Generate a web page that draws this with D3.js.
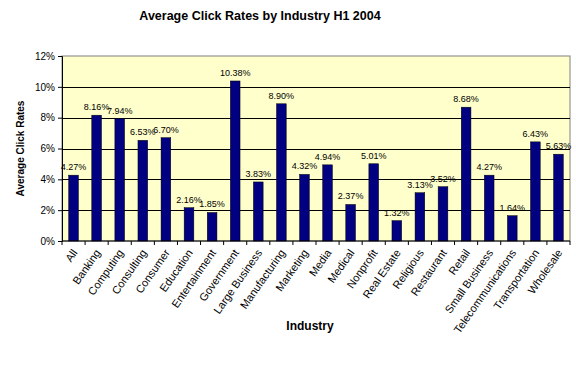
<!DOCTYPE html>
<html>
<head>
<meta charset="utf-8">
<script src="https://cdn.jsdelivr.net/npm/d3@7"></script>
<style>
  body { margin: 0; background: #fff; }
  svg text { font-family: "Liberation Sans", Arial, sans-serif; }
</style>
</head>
<body>
<div id="chart"></div>
<script>
// chart data
var industries = ["All", "Banking", "Computing", "Consulting", "Consumer", "Education",
  "Entertainment", "Government", "Large Business", "Manufacturing", "Marketing", "Media",
  "Medical", "Nonprofit", "Real Estate", "Religious", "Restaurant", "Retail",
  "Small Business", "Telecommunications", "Transportation", "Wholesale"];
var clickRates = [4.27, 8.16, 7.94, 6.53, 6.70, 2.16, 1.85, 10.38, 3.83, 8.90, 4.32, 4.94,
  2.37, 5.01, 1.32, 3.13, 3.52, 8.68, 4.27, 1.64, 6.43, 5.63];
var yTicks = [0, 2, 4, 6, 8, 10, 12];

var data = industries.map(function(d, i) { return {name: d, value: clickRates[i]}; });

// set dimensions and margins
var margin = {top: 56, right: 6, bottom: 143, left: 62},
  width = 576 - margin.left - margin.right,
  height = 384 - margin.top - margin.bottom;

var svg = d3.select("#chart")
  .append("svg")
    .attr("width", 576)
    .attr("height", 384)
  .append("g")
    .attr("transform", "translate(" + margin.left + "," + margin.top + ")");

// title
svg.append("text")
  .attr("x", 260 - margin.left)
  .attr("y", 17 - margin.top)
  .attr("text-anchor", "middle")
  .attr("dominant-baseline", "middle")
  .style("font-size", "12.5px")
  .style("font-weight", "bold")
  .text("Average Click Rates by Industry H1 2004");

var x = d3.scaleBand()
  .domain(industries)
  .range([0, width])
  .paddingInner(0.58)
  .paddingOuter(0.29);

var y = d3.scaleLinear()
  .domain([0, 12])
  .range([height, 0]);

// plot background
svg.append("rect")
  .attr("width", width)
  .attr("height", height)
  .attr("fill", "#ffffcc")
  .attr("stroke", "#808080")
  .attr("stroke-width", 1);

// gridlines
svg.selectAll(".grid")
  .data(yTicks.filter(function(d) { return d > 0 && d < 12; }))
  .enter().append("line")
    .attr("x1", 0)
    .attr("x2", width)
    .attr("y1", function(d) { return Math.round(y(d)) + 0.5; })
    .attr("y2", function(d) { return Math.round(y(d)) + 0.5; })
    .attr("stroke", "#000")
    .attr("stroke-width", 1);

// bars
svg.selectAll(".bar")
  .data(data)
  .enter().append("rect")
    .attr("x", function(d) { return x(d.name); })
    .attr("y", function(d) { return y(d.value); })
    .attr("width", x.bandwidth())
    .attr("height", function(d) { return height - y(d.value); })
    .attr("fill", "#000080")
    .attr("stroke", "#000")
    .attr("stroke-width", 0.5);

// data labels
svg.selectAll(".lbl")
  .data(data)
  .enter().append("text")
    .attr("x", function(d) { return x(d.name) + x.bandwidth() / 2; })
    .attr("y", function(d) { return y(d.value) - 5; })
    .attr("text-anchor", "middle")
    .style("font-size", "9px")
    .text(function(d) { return d.value.toFixed(2) + "%"; });

// Y axis
var yAxis = svg.append("g")
  .call(d3.axisLeft(y).tickValues(yTicks).tickSize(4).tickFormat(function(d) { return d + "%"; }));
yAxis.select(".domain").attr("stroke", "#000");
yAxis.selectAll("text").style("font-size", "10px").attr("x", -7);

// X axis
var xAxis = svg.append("g")
  .attr("transform", "translate(0," + height + ")");
xAxis.append("line")
  .attr("x1", 0).attr("x2", width)
  .attr("stroke", "#000");
xAxis.selectAll(".tick")
  .data(d3.range(industries.length + 1))
  .enter().append("line")
    .attr("x1", function(i) { return i * x.step(); })
    .attr("x2", function(i) { return i * x.step(); })
    .attr("y1", 0).attr("y2", 4)
    .attr("stroke", "#000");
xAxis.selectAll(".xl")
  .data(industries)
  .enter().append("text")
    .attr("transform", function(d) {
      return "translate(" + (x(d) + x.bandwidth() / 2 + 2) + ",10) rotate(-55)";
    })
    .attr("text-anchor", "end")
    .attr("dominant-baseline", "middle")
    .style("font-size", "11px")
    .text(function(d) { return d; });

// axis titles
svg.append("text")
  .attr("x", 310 - margin.left)
  .attr("y", 327 - margin.top)
  .attr("text-anchor", "middle")
  .attr("dominant-baseline", "middle")
  .style("font-size", "12px")
  .style("font-weight", "bold")
  .text("Industry");

svg.append("text")
  .attr("transform", "translate(" + (21 - margin.left) + "," + (height / 2) + ") rotate(-90)")
  .attr("text-anchor", "middle")
  .attr("dominant-baseline", "middle")
  .style("font-size", "10px")
  .style("font-weight", "bold")
  .text("Average Click Rates");
</script>
</body>
</html>
